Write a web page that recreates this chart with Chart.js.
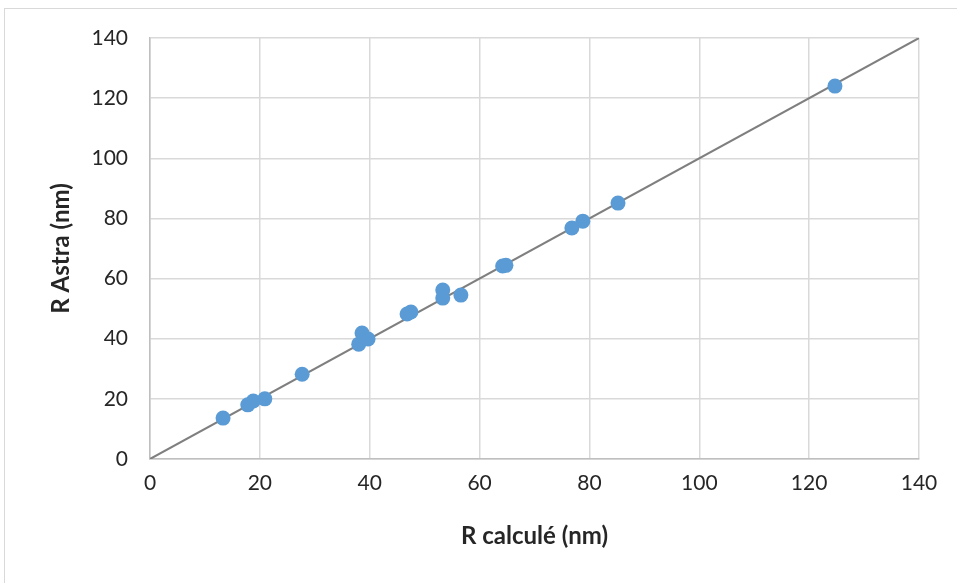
<!DOCTYPE html>
<html lang="fr">
<head>
    <meta charset="UTF-8">
    <title>R Astra vs R calculé</title>
    <script src="https://cdn.jsdelivr.net/npm/chart.js@4.4.0/dist/chart.umd.min.js"></script>
    <style>
        body { margin: 0; background: #fff; }
        #wrap { position: relative; width: 957px; height: 583px; }
        #frame {
            position: absolute; left: 4px; top: 8px; right: -10px; bottom: -10px;
            border: 1px solid #d9d9d9;
        }
        canvas { position: absolute; left: 0; top: 0; }
    </style>
</head>
<body>
<div id="wrap">
    <div id="frame"></div>
    <canvas id="chart" width="957" height="583"></canvas>
</div>
<script>
    // values (nm)
    const rCalcule = [13.3, 17.8, 18.8, 20.9, 27.7, 38.0, 38.6, 39.7, 46.8, 47.5, 53.3, 53.3, 56.6, 64.2, 64.8, 76.8, 78.8, 85.2, 124.7];
    const rAstra   = [13.6, 18.0, 19.3, 20.0, 28.2, 38.2, 41.9, 39.9, 48.2, 48.9, 56.2, 53.5, 54.5, 64.2, 64.4, 76.8, 79.1, 85.1, 124.0];
    const refLine  = [0, 140];

    const points = rCalcule.map((x, i) => ({ x: x, y: rAstra[i] }));
    const diag = refLine.map(v => ({ x: v, y: v }));

    const tickFont = { family: 'Lato, "Open Sans", sans-serif', size: 21 };
    const titleFont = { family: 'Lato, "Open Sans", sans-serif', size: 24, weight: 'bold' };

    new Chart(document.getElementById('chart'), {
        type: 'scatter',
        data: {
            datasets: [
                {
                    label: 'R',
                    data: points,
                    backgroundColor: '#5b9bd5',
                    borderColor: '#5b9bd5',
                    pointRadius: 7.5,
                    pointBorderWidth: 0
                },
                {
                    label: 'y = x',
                    type: 'line',
                    data: diag,
                    borderColor: '#7f7f7f',
                    borderWidth: 2,
                    pointRadius: 0,
                    order: 1
                }
            ]
        },
        options: {
            responsive: false,
            animation: false,
            layout: { padding: { top: 38, right: 38, left: 0, bottom: 0 } },
            plugins: { legend: { display: false }, tooltip: { enabled: false } },
            scales: {
                x: {
                    type: 'linear',
                    min: 0, max: 140,
                    ticks: { stepSize: 20, color: '#262626', font: tickFont, padding: 12 },
                    grid: { color: '#d9d9d9', lineWidth: 1.5, drawTicks: false },
                    border: { color: '#bfbfbf', width: 1.5 },
                    title: { display: true, text: 'R calculé (nm)', color: '#262626', font: titleFont, padding: { top: 0, bottom: 32 } },
                    afterFit: s => { s.height = 124; }
                },
                y: {
                    min: 0, max: 140,
                    ticks: { stepSize: 20, color: '#262626', font: tickFont, padding: 22 },
                    grid: { color: '#d9d9d9', lineWidth: 1.5, drawTicks: false },
                    border: { color: '#bfbfbf', width: 1.5 },
                    title: { display: true, text: 'R Astra (nm)', color: '#262626', font: titleFont, padding: { top: 47, bottom: 0 } },
                    afterFit: s => { s.width = 150; }
                }
            }
        }
    });
</script>
</body>
</html>
